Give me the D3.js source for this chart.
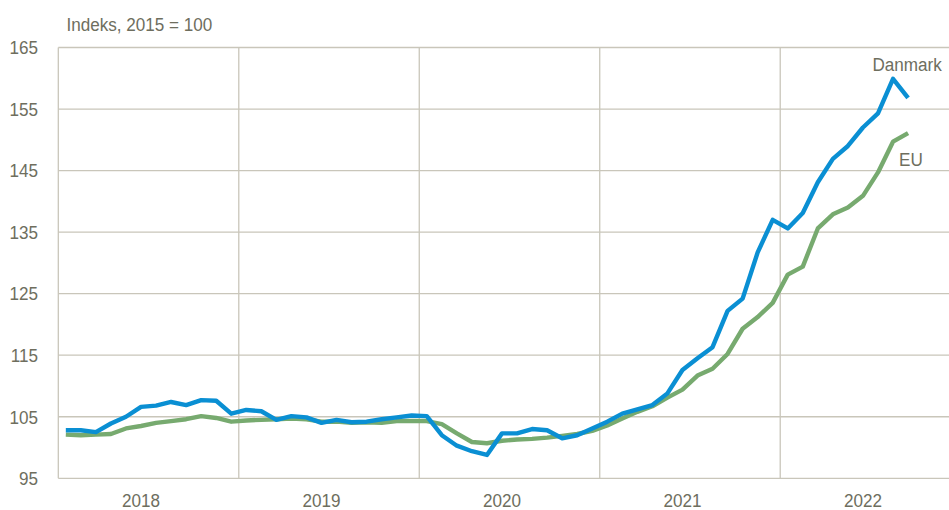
<html>
<head>
  <meta charset="utf-8">
  <script src="https://d3js.org/d3.v7.min.js"></script>
  <style>
    body { margin: 0; background: #fff; }
    text { font-family: "Liberation Sans Narrow", "Arial Narrow", "Liberation Sans", Arial, sans-serif; fill: #6e6e5e; font-size: 19px; }
  </style>
  <script>
    // månedlige indeks, jan 2018 - sep 2022
    var months = d3.timeMonth.range(new Date(2018, 0, 1), new Date(2022, 9, 1));
    var years = ["2018", "2019", "2020", "2021", "2022"];
    var yTicks = [95, 105, 115, 125, 135, 145, 155, 165];

    var danmark = [
      102.8, 102.8, 102.5, 103.9, 105.0, 106.6, 106.8, 107.4, 106.9, 107.7, 107.6, 105.5,
      106.1, 105.9, 104.5, 105.1, 104.9, 104.0, 104.5, 104.1, 104.2, 104.6, 104.9, 105.2,
      105.1, 102.0, 100.3, 99.4, 98.8, 102.3, 102.3, 103.0, 102.8, 101.5, 102.0, 103.1,
      104.2, 105.5, 106.2, 106.9, 108.8, 112.6, 114.5, 116.3, 122.2, 124.2, 131.7, 137.0,
      135.6, 138.1, 143.1, 146.9, 149.0, 152.0, 154.3, 159.9, 156.8
    ];
    var eu = [
      102.1, 102.0, 102.1, 102.2, 103.1, 103.5, 104.0, 104.3, 104.6, 105.1, 104.8, 104.2,
      104.4, 104.5, 104.6, 104.7, 104.6, 104.2, 104.2, 104.0, 104.1, 104.0, 104.3, 104.3,
      104.3, 103.8, 102.3, 100.9, 100.7, 101.1, 101.3, 101.4, 101.6, 101.9, 102.2, 102.7,
      103.6, 104.7, 105.8, 106.7, 108.1, 109.4, 111.7, 112.8, 115.2, 119.3, 121.2, 123.5,
      128.1, 129.4, 135.6, 137.9, 139.0, 140.9, 144.7, 149.7, 151.1
    ];

    // smal skrift: vandret sammenpresning af Liberation Sans
    var narrow = 0.9;
    function label(g, x, y, txt, anchor) {
      return g.append("text")
        .attr("transform", "translate(" + x + "," + y + ") scale(" + narrow + ",1)")
        .attr("text-anchor", anchor || "start")
        .text(txt);
    }

    function makeChart() {
      var left = 58.3, top = 47.5, bottom = 478.3, right = 949, monthW = 15.04;
      var svg = d3.select("#chart");

      var x = d3.scaleLinear().domain([0, 60]).range([left, left + 60 * monthW]);
      var y = d3.scaleLinear().domain([95, 165]).range([bottom, top]);
      var grid = "#c9c6ba";

      // vandrette gitterlinjer
      svg.append("g").selectAll("line").data(yTicks).enter()
        .append("line")
        .attr("x1", left).attr("x2", right)
        .attr("y1", d => y(d)).attr("y2", d => y(d))
        .attr("stroke", grid).attr("stroke-width", 1.3);

      // lodrette linjer ved årsskift
      svg.append("g").selectAll("line").data(d3.range(0, 60, 12)).enter()
        .append("line")
        .attr("x1", d => x(d)).attr("x2", d => x(d))
        .attr("y1", top).attr("y2", bottom)
        .attr("stroke", grid).attr("stroke-width", 1.3);

      // y-akse tal
      var ya = svg.append("g");
      yTicks.forEach(function(t) { label(ya, 38, y(t) + 6.8, t, "end"); });

      // årstal under hvert år (midt i juni)
      var xa = svg.append("g");
      years.forEach(function(yr, i) { label(xa, x(i * 12 + 5.5), 507, yr, "middle"); });

      label(svg, 66.5, 30.5, "Indeks, 2015 = 100");

      var line = d3.line()
        .x((d, i) => x(i + 0.5))
        .y(d => y(d));

      svg.append("path").attr("d", line(eu))
        .attr("fill", "none").attr("stroke", "#77aa6f")
        .attr("stroke-width", 4.4).attr("stroke-linejoin", "round");

      svg.append("path").attr("d", line(danmark))
        .attr("fill", "none").attr("stroke", "#0a8fd3")
        .attr("stroke-width", 4.4).attr("stroke-linejoin", "round");

      label(svg, 872.5, 71, "Danmark");
      label(svg, 899, 165.5, "EU");
    }
  </script>
</head>

<body onload="makeChart()">
  <svg id="chart" width="949" height="510"></svg>
</body>
</html>
